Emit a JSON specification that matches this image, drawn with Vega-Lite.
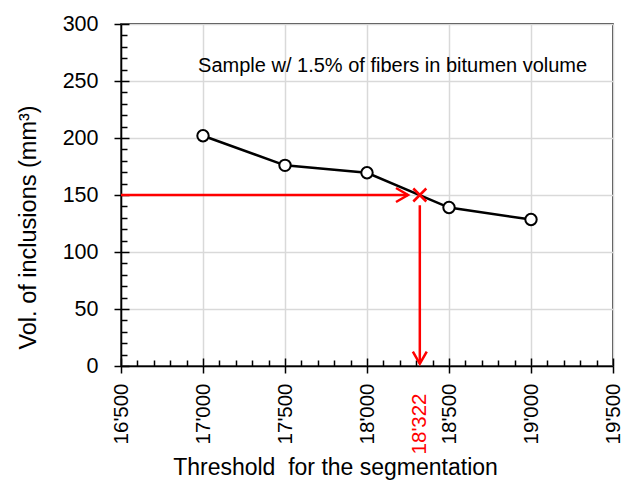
{
  "$schema": "https://vega.github.io/schema/vega-lite/v6.json",
  "width": 492,
  "height": 342,
  "autosize": "none",
  "padding": {"left": 121, "top": 24, "right": 18, "bottom": 120},
  "background": "white",
  "config": {
    "view": {"stroke": "black", "strokeWidth": 1.5},
    "axis": {"domainColor": "black", "domainWidth": 1.5, "tickColor": "black", "tickWidth": 1.5}
  },
  "resolve": {"axis": {"x": "independent", "y": "independent"}},
  "layer": [
    {
      "data": {"values": [{"x": 16500, "x2": 18250, "y": 150}]},
      "mark": {"type": "rule", "color": "#ff0000", "strokeWidth": 2.5},
      "encoding": {
        "x": {
          "field": "x", "type": "quantitative",
          "scale": {"domain": [16500, 19500], "nice": false, "zero": false},
          "axis": {
            "orient": "bottom",
            "values": [16500, 17000, 17500, 18000, 18322, 18500, 19000, 19500],
            "labelExpr": "replace(format(datum.value, ','), ',', \"'\")",
            "labelAngle": 270, "labelAlign": "right", "labelBaseline": "middle",
            "labelFont": "Liberation Sans", "labelFontSize": 20.5,
            "labelColor": {"condition": {"test": "datum.value == 18322", "value": "#ff0000"}, "value": "black"},
            "labelPadding": {"condition": {"test": "datum.value == 18322", "value": 20}, "value": 10},
            "labelOverlap": false, "labelFlush": false,
            "tickSize": 7,
            "tickOpacity": {"condition": {"test": "datum.value == 18322", "value": 0}, "value": 1},
            "grid": true, "gridColor": "#d9d9d9", "gridWidth": 1.5,
            "gridOpacity": {"condition": {"test": "datum.value == 18322", "value": 0}, "value": 1},
            "title": "Threshold \u00a0for the segmentation",
            "titleFont": "Liberation Sans", "titleFontSize": 23, "titleFontWeight": "normal", "titleColor": "black",
            "titleX": 214, "titleY": 90, "titleAlign": "center", "titleBaseline": "top"
          }
        },
        "x2": {"field": "x2"},
        "y": {
          "field": "y", "type": "quantitative",
          "scale": {"domain": [0, 300], "nice": false},
          "axis": {
            "orient": "left",
            "values": [0, 50, 100, 150, 200, 250, 300],
            "labelFont": "Liberation Sans", "labelFontSize": 21.5, "labelColor": "black",
            "labelPadding": 16, "tickSize": 7,
            "grid": true, "gridColor": "#d9d9d9", "gridWidth": 1.5,
            "title": "Vol. of inclusions (mm³)",
            "titleFont": "Liberation Sans", "titleFontSize": 23.5, "titleFontWeight": "normal", "titleColor": "black",
            "titleX": -93, "titleY": 203, "titleAlign": "center", "titleBaseline": "middle", "titleAngle": 270
          }
        }
      }
    },
    {
      "data": {"values": [{"x": 18322, "y": 141, "y2": 2}]},
      "mark": {"type": "rule", "color": "#ff0000", "strokeWidth": 2.5},
      "encoding": {
        "x": {
          "field": "x", "type": "quantitative",
          "axis": {"orient": "bottom", "values": [16500, 17000, 17500, 18000, 18500, 19000, 19500], "tickSize": -8, "labels": false, "grid": false, "domain": false, "title": null}
        },
        "y": {
          "field": "y", "type": "quantitative",
          "axis": {"orient": "left", "values": [0, 50, 100, 150, 200, 250, 300], "tickSize": -8, "labels": false, "grid": false, "domain": false, "title": null}
        },
        "y2": {"field": "y2"}
      }
    },
    {
      "data": {"values": [{"x": 18250, "y": 150, "dir": "right"}, {"x": 18322, "y": 2, "dir": "down"}]},
      "mark": {"type": "point", "filled": false, "color": "#ff0000", "strokeWidth": 2.5, "size": 576, "opacity": 1},
      "encoding": {
        "x": {
          "field": "x", "type": "quantitative",
          "axis": {"orient": "bottom", "values": [16600, 16700, 16800, 16900, 17100, 17200, 17300, 17400, 17600, 17700, 17800, 17900, 18100, 18200, 18300, 18400, 18600, 18700, 18800, 18900, 19100, 19200, 19300, 19400], "tickSize": -6, "labels": false, "grid": false, "domain": false, "title": null}
        },
        "y": {
          "field": "y", "type": "quantitative",
          "axis": {"orient": "left", "values": [10, 20, 30, 40, 60, 70, 80, 90, 110, 120, 130, 140, 160, 170, 180, 190, 210, 220, 230, 240, 260, 270, 280, 290], "tickSize": -6, "labels": false, "grid": false, "domain": false, "title": null}
        },
        "shape": {
          "field": "dir", "type": "nominal", "legend": null,
          "scale": {"domain": ["right", "down"], "range": ["M-1,-0.58L0,0L-1,0.58", "M-0.58,-1L0,0L0.58,-1"]}
        }
      }
    },
    {
      "data": {"values": [
        {"t": 17000, "v": 202},
        {"t": 17500, "v": 176},
        {"t": 18000, "v": 169.5},
        {"t": 18500, "v": 139},
        {"t": 19000, "v": 128.5}
      ]},
      "layer": [
        {
          "mark": {"type": "line", "color": "black", "strokeWidth": 2.5},
          "encoding": {
            "x": {"field": "t", "type": "quantitative", "axis": null},
            "y": {"field": "v", "type": "quantitative", "axis": null}
          }
        },
        {
          "mark": {"type": "point", "filled": true, "fill": "white", "stroke": "black", "strokeWidth": 2, "size": 130, "opacity": 1},
          "encoding": {
            "x": {"field": "t", "type": "quantitative", "axis": null},
            "y": {"field": "v", "type": "quantitative", "axis": null}
          }
        }
      ]
    },
    {
      "data": {"values": [{"x": 18322, "y": 150}]},
      "mark": {"type": "point", "shape": "M-1,-1L1,1M-1,1L1,-1", "filled": false, "color": "#ff0000", "strokeWidth": 2.5, "size": 169, "opacity": 1},
      "encoding": {
        "x": {"field": "x", "type": "quantitative", "axis": null},
        "y": {"field": "y", "type": "quantitative", "axis": null}
      }
    },
    {
      "data": {"values": [{"x": 16970, "y": 263, "label": "Sample w/ 1.5% of fibers in bitumen volume"}]},
      "mark": {"type": "text", "align": "left", "baseline": "middle", "font": "Liberation Sans", "fontSize": 20, "color": "black"},
      "encoding": {
        "x": {"field": "x", "type": "quantitative", "axis": null},
        "y": {"field": "y", "type": "quantitative", "axis": null},
        "text": {"field": "label"}
      }
    }
  ]
}
